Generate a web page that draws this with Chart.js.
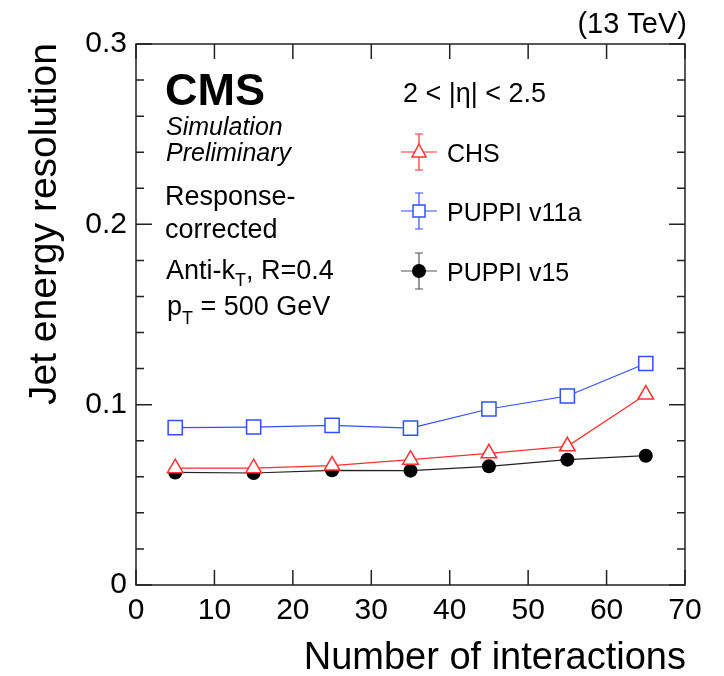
<!DOCTYPE html>
<html>
<head>
<meta charset="utf-8">
<script src="https://cdn.jsdelivr.net/npm/chart.js@4.4.1/dist/chart.umd.min.js"></script>
<style>
body{margin:0;background:#fff}
#wrap{width:724px;height:676px}
</style>
</head>
<body>
<div id="wrap"><canvas id="myChart" width="724" height="676"></canvas></div>
<script>
// data
var nInt = [5, 15, 25, 35, 45, 55, 65]
var chs = [0.0648, 0.0648, 0.0662, 0.0695, 0.0730, 0.0769, 0.1056]
var puppiV11a = [0.0873, 0.0876, 0.0885, 0.0870, 0.0976, 0.1048, 0.1228]
var puppiV15 = [0.0624, 0.0621, 0.0636, 0.0634, 0.0658, 0.0695, 0.0717]
var xTickStep = 10
var yTickStep = 0.1
var yMinorStep = 0.02

var FONT = "'Liberation Sans', Arial, Helvetica, sans-serif"
var RED = '#ff3030'
var BLUE = '#3050ff'

function toPts(ys) {
    return nInt.map(function (x, i) { return { x: x, y: ys[i] } })
}

// frame with root style ticks pointing inward
var framePlugin = {
    id: 'frame',
    afterDraw: function (chart) {
        var ctx = chart.ctx, a = chart.chartArea
        var xs = chart.scales.x, ys = chart.scales.y
        ctx.save()
        ctx.strokeStyle = '#222'
        ctx.lineWidth = 1.5
        ctx.strokeRect(a.left, a.top, a.right - a.left, a.bottom - a.top)
        ctx.beginPath()
        for (var v = xs.min; v <= xs.max + 1e-9; v += xTickStep) {
            var px = xs.getPixelForValue(v)
            ctx.moveTo(px, a.bottom); ctx.lineTo(px, a.bottom - 15)
            ctx.moveTo(px, a.top); ctx.lineTo(px, a.top + 15)
        }
        var n = Math.round((ys.max - ys.min) / yMinorStep)
        for (var i = 0; i <= n; i++) {
            var py = ys.getPixelForValue(ys.min + i * yMinorStep)
            var len = (i % 5 === 0) ? 16 : 8
            ctx.moveTo(a.left, py); ctx.lineTo(a.left + len, py)
            ctx.moveTo(a.right, py); ctx.lineTo(a.right - len, py)
        }
        ctx.stroke()
        ctx.restore()
    }
}

function txt(ctx, s, x, y, font, align) {
    ctx.font = font
    ctx.textAlign = align || 'left'
    ctx.fillText(s, x, y)
    return ctx.measureText(s).width
}

// texts, titles and legend
var labelPlugin = {
    id: 'labels',
    afterDraw: function (chart) {
        var ctx = chart.ctx, a = chart.chartArea
        ctx.save()
        ctx.fillStyle = '#000'
        ctx.textBaseline = 'alphabetic'
        // axis titles
        txt(ctx, 'Number of interactions', a.right + 1, 669, '38px ' + FONT, 'right')
        ctx.save()
        ctx.translate(56, a.top - 1)
        ctx.rotate(-Math.PI / 2)
        txt(ctx, 'Jet energy resolution', 0, 0, '39px ' + FONT, 'right')
        ctx.restore()
        txt(ctx, '(13 TeV)', 687, 33, '29px ' + FONT, 'right')

        // CMS block
        txt(ctx, 'CMS', 165, 105, 'bold 45px ' + FONT)
        txt(ctx, 'Simulation', 166, 135, 'italic 25px ' + FONT)
        txt(ctx, 'Preliminary', 166, 161, 'italic 25px ' + FONT)
        txt(ctx, 'Response-', 165, 205, '27px ' + FONT)
        txt(ctx, 'corrected', 165, 238, '27px ' + FONT)
        var w = txt(ctx, 'Anti-k', 166, 279, '27px ' + FONT)
        var w2 = txt(ctx, 'T', 166 + w, 286, '18px ' + FONT)
        txt(ctx, ', R=0.4', 166 + w + w2, 279, '27px ' + FONT)
        w = txt(ctx, 'p', 167, 315, '27px ' + FONT)
        w2 = txt(ctx, 'T', 167 + w, 324, '18px ' + FONT)
        txt(ctx, ' = 500 GeV', 167 + w + w2, 315, '27px ' + FONT)

        txt(ctx, '2 < |\u03b7| < 2.5', 403, 102, '27px ' + FONT)

        // legend
        var entries = [
            { label: 'CHS', color: RED, line: RED, y: 152, shape: 'tri' },
            { label: 'PUPPI v11a', color: BLUE, line: BLUE, y: 211, shape: 'sq' },
            { label: 'PUPPI v15', color: '#000', line: '#555', y: 271, shape: 'circ' }
        ]
        var lx = 419
        entries.forEach(function (e) {
            ctx.strokeStyle = e.line
            ctx.lineWidth = 1.2
            ctx.beginPath()
            ctx.moveTo(lx - 18, e.y); ctx.lineTo(lx + 18, e.y)
            ctx.moveTo(lx, e.y - 18); ctx.lineTo(lx, e.y + 18)
            ctx.moveTo(lx - 4, e.y - 18); ctx.lineTo(lx + 4, e.y - 18)
            ctx.moveTo(lx - 4, e.y + 18); ctx.lineTo(lx + 4, e.y + 18)
            ctx.stroke()
            ctx.strokeStyle = e.color
            ctx.lineWidth = 1.5
            ctx.beginPath()
            if (e.shape === 'tri') {
                ctx.moveTo(lx, e.y - 8); ctx.lineTo(lx + 7, e.y + 5); ctx.lineTo(lx - 7, e.y + 5); ctx.closePath()
                ctx.fillStyle = '#fff'; ctx.fill(); ctx.stroke()
            } else if (e.shape === 'sq') {
                ctx.rect(lx - 6, e.y - 6, 12, 12)
                ctx.fillStyle = '#fff'; ctx.fill(); ctx.stroke()
            } else {
                ctx.arc(lx, e.y, 7, 0, Math.PI * 2)
                ctx.fillStyle = '#000'; ctx.fill()
            }
            ctx.fillStyle = '#000'
            txt(ctx, e.label, 447, e.y + 10, '25px ' + FONT)
        })
        ctx.restore()
    }
}

var ctx = document.getElementById('myChart').getContext('2d')
var myChart = new Chart(ctx, {
    type: 'line',
    data: {
        datasets: [{
            label: 'CHS',
            data: toPts(chs),
            borderColor: RED,
            backgroundColor: '#fff',
            borderWidth: 1.2,
            pointStyle: 'triangle',
            pointRadius: 9,
            pointBorderWidth: 1.5,
            pointBorderColor: RED,
            order: 1
        }, {
            label: 'PUPPI v11a',
            data: toPts(puppiV11a),
            borderColor: BLUE,
            backgroundColor: '#fff',
            borderWidth: 1.2,
            pointStyle: 'rect',
            pointRadius: 10,
            pointBorderWidth: 1.5,
            pointBorderColor: BLUE,
            order: 3
        }, {
            label: 'PUPPI v15',
            data: toPts(puppiV15),
            borderColor: '#222',
            backgroundColor: '#000',
            borderWidth: 1.2,
            pointStyle: 'circle',
            pointRadius: 7,
            pointBorderWidth: 0,
            pointBackgroundColor: '#000',
            order: 2
        }]
    },
    options: {
        responsive: false,
        animation: false,
        events: [],
        layout: { padding: { top: 44, right: 39, left: 0, bottom: 0 } },
        plugins: { legend: { display: false }, tooltip: { enabled: false } },
        scales: {
            x: {
                type: 'linear',
                min: 0,
                max: 70,
                grid: { display: false },
                border: { display: false },
                ticks: { stepSize: xTickStep, color: '#000', padding: 0, maxRotation: 0, font: { family: FONT, size: 30 } },
                afterFit: function (scale) { scale.height = 91 }
            },
            y: {
                min: 0,
                max: 0.3,
                grid: { display: false },
                border: { display: false },
                ticks: {
                    stepSize: yTickStep, color: '#000', padding: 1, font: { family: FONT, size: 30 },
                    callback: function (v) { return v === 0 ? '0' : v.toFixed(1) }
                },
                afterFit: function (scale) { scale.width = 136 }
            }
        }
    },
    plugins: [framePlugin, labelPlugin]
})
</script>
</body>
</html>
